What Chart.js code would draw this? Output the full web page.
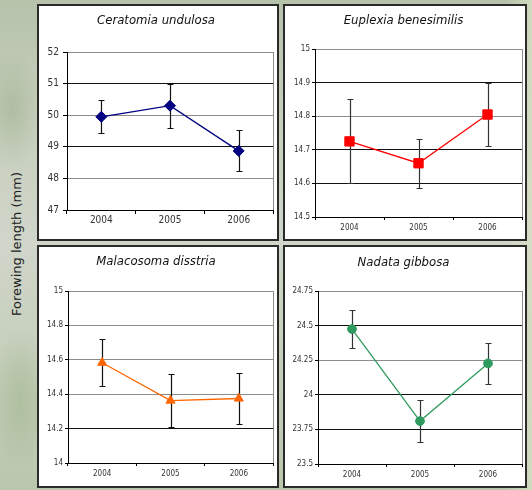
<!DOCTYPE html>
<html>
<head>
<meta charset="utf-8">
<script src="https://cdn.jsdelivr.net/npm/chart.js@4.4.1/dist/chart.umd.min.js"></script>
<style>
  html, body { margin: 0; padding: 0; }
  body {
    width: 532px; height: 490px; overflow: hidden; position: relative;
    background:
      radial-gradient(ellipse 30px 60px at 12px 110px, rgba(150,170,130,0.45), rgba(150,170,130,0)),
      radial-gradient(ellipse 30px 70px at 20px 400px, rgba(150,175,130,0.45), rgba(150,175,130,0)),
      linear-gradient(90deg, rgba(0,0,0,0) 95%, rgba(215,225,195,0.8) 100%),
      linear-gradient(180deg, #b6c2aa 0%, #c7cfbe 25%, #d0d6ca 50%, #c5ceba 75%, #bac7ae 100%);
  }
  .panel { position: absolute; box-sizing: border-box; border: 2px solid #2a2a2a; background: #fff; }
  .panel canvas { display: block; }
  #ylab {
    position: absolute; left: 16px; top: 244px;
    transform: translate(-50%, -50%) rotate(-90deg);
    white-space: nowrap; font: 13px "DejaVu Sans", sans-serif; color: #222;
  }
</style>
</head>
<body>
<div id="ylab">Forewing length (mm)</div>
<div class="panel" id="p1"><canvas id="c1"></canvas></div>
<div class="panel" id="p2"><canvas id="c2"></canvas></div>
<div class="panel" id="p3"><canvas id="c3"></canvas></div>
<div class="panel" id="p4"><canvas id="c4"></canvas></div>
<script>
// --- data ---
const years = ["2004", "2005", "2006"];

const ceratomiaMean = [49.95, 50.3, 48.87];
const ceratomiaErr = [0.52, 0.69, 0.65];
const ceratomiaTicks = [47, 48, 49, 50, 51, 52];

const euplexiaMean = [14.725, 14.66, 14.805];
const euplexiaErr = [0.125, 0.073, 0.093];
const euplexiaTicks = [14.5, 14.6, 14.7, 14.8, 14.9, 15];

const malacosomaMean = [14.583, 14.363, 14.375];
const malacosomaErr = [0.137, 0.153, 0.149];
const malacosomaTicks = [14, 14.2, 14.4, 14.6, 14.8, 15];

const nadataMean = [24.475, 23.81, 24.227];
const nadataErr = [0.137, 0.15, 0.148];
const nadataTicks = [23.5, 23.75, 24, 24.25, 24.5, 24.75];

const FONT = '"DejaVu Sans Condensed", "Liberation Sans", sans-serif';

// --- panel layout (box = outer div, plot = l, r, t, b inside canvas) ---
const panels = [
  { id: 1, title: "Ceratomia undulosa", mean: ceratomiaMean, err: ceratomiaErr, ticks: ceratomiaTicks,
    color: "#000080", point: "rectRot", radius: 5.5, bar: "#111",
    box: [37, 4, 242, 237], plot: [28, 234, 46, 204], titleY: 14.7,
    font: 10, tickLen: 4, tickPad: 4, xPad: 0, dark: [49, 51] },
  { id: 2, title: "Euplexia benesimilis", mean: euplexiaMean, err: euplexiaErr, ticks: euplexiaTicks,
    color: "#ff0000", point: "rect", radius: 6.6, bar: "#333",
    box: [283, 4, 244, 237], plot: [30, 237, 43, 211], titleY: 14.7,
    font: 8, tickLen: 3, tickPad: 2, xPad: 3, dark: [14.6, 14.7, 14.9] },
  { id: 3, title: "Malacosoma disstria", mean: malacosomaMean, err: malacosomaErr, ticks: malacosomaTicks,
    color: "#ff6600", point: "triangle", radius: 5.2, bar: "#111",
    box: [37, 245, 242, 243], plot: [29, 234, 44, 216], titleY: 14.7,
    font: 8, tickLen: 3, tickPad: 2, xPad: 3, dark: [14.2] },
  { id: 4, title: "Nadata gibbosa", mean: nadataMean, err: nadataErr, ticks: nadataTicks,
    color: "#2e9a5e", point: "circle", radius: 4.4, bar: "#333",
    box: [283, 245, 244, 243], plot: [33, 237, 44, 217], titleY: 15.7,
    font: 8, tickLen: 3, tickPad: 2, xPad: 3, dark: [23.75, 24, 24.5] },
];

// --- plugins ---
const errorBars = {
  id: "errorBars",
  beforeDatasetsDraw(chart, args, opts) {
    const ds = chart.data.datasets[0];
    const meta = chart.getDatasetMeta(0);
    const y = chart.scales.y;
    const c = chart.ctx;
    c.save();
    c.strokeStyle = opts.color;
    c.lineWidth = 1.2;
    meta.data.forEach((pt, i) => {
      const x = Math.round(pt.x) + 0.5;
      const top = Math.round(y.getPixelForValue(ds.data[i] + ds.err[i])) + 0.5;
      const bot = Math.round(y.getPixelForValue(ds.data[i] - ds.err[i])) + 0.5;
      c.beginPath();
      c.moveTo(x, top); c.lineTo(x, bot);
      c.moveTo(x - 3, top); c.lineTo(x + 3, top);
      c.moveTo(x - 3, bot); c.lineTo(x + 3, bot);
      c.stroke();
    });
    c.restore();
  },
};

// gray frame on the right edge of the plot area
const plotFrame = {
  id: "plotFrame",
  beforeDatasetsDraw(chart) {
    const a = chart.chartArea;
    const c = chart.ctx;
    const x = Math.round(a.right) + 0.5;
    c.save();
    c.strokeStyle = "#8c8c8c";
    c.lineWidth = 1;
    c.beginPath();
    c.moveTo(x, a.top);
    c.lineTo(x, a.bottom);
    c.stroke();
    c.restore();
  },
};

// --- build charts ---
function initPanel(p) {
  const div = document.getElementById("p" + p.id);
  const [bx, by, bw, bh] = p.box;
  Object.assign(div.style, { left: bx + "px", top: by + "px", width: bw + "px", height: bh + "px" });
  const cw = bw - 4, ch = bh - 4;
  const canvas = document.getElementById("c" + p.id);
  canvas.width = cw;
  canvas.height = ch;
  const [pl, pr, pt, pb] = p.plot;
  const titleSize = 13, titleLine = titleSize * 1.2;
  const titleTop = p.titleY - titleLine / 2;

  new Chart(canvas, {
    type: "line",
    data: {
      labels: years,
      datasets: [{
        data: p.mean,
        err: p.err,
        borderColor: p.color,
        backgroundColor: p.color,
        borderWidth: 1.3,
        pointStyle: p.point,
        pointRadius: p.radius,
        pointBorderWidth: 1,
        pointBackgroundColor: p.color,
        pointBorderColor: p.color,
        tension: 0,
      }],
    },
    options: {
      responsive: false,
      animation: false,
      devicePixelRatio: 1,
      layout: { autoPadding: false, padding: { left: 0, top: 0, bottom: 0, right: cw - pr } },
      plugins: {
        legend: { display: false },
        tooltip: { enabled: false },
        title: {
          display: true,
          text: p.title,
          color: "#111",
          font: { family: FONT, size: titleSize, style: "italic", weight: "normal", lineHeight: 1.2 },
          padding: { top: titleTop, bottom: pt - titleTop - titleLine },
        },
        errorBars: { color: p.bar },
      },
      scales: {
        x: {
          type: "category",
          offset: true,
          grid: { drawOnChartArea: false, offset: true, tickLength: p.tickLen, tickColor: "#000" },
          border: { color: "#000" },
          ticks: { font: { family: FONT, size: p.font }, color: "#333", padding: p.xPad, maxRotation: 0 },
          afterFit: (s) => { s.height = ch - pb; },
        },
        y: {
          type: "linear",
          min: p.ticks[0],
          max: p.ticks[p.ticks.length - 1],
          afterBuildTicks: (s) => { s.ticks = p.ticks.map((v) => ({ value: v })); },
          grid: {
            color: (ctx) => (ctx.tick && p.dark.includes(ctx.tick.value) ? "#111" : "#8c8c8c"),
            tickLength: p.tickLen,
            tickColor: "#000",
          },
          border: { color: "#000" },
          ticks: {
            font: { family: FONT, size: p.font },
            color: "#333",
            padding: p.tickPad,
            callback: (v) => String(v),
          },
          afterFit: (s) => { s.width = pl; },
        },
      },
    },
    plugins: [errorBars, plotFrame],
  });
}

document.addEventListener("DOMContentLoaded", () => {
  panels.forEach(initPanel);
});
</script>
</body>
</html>
